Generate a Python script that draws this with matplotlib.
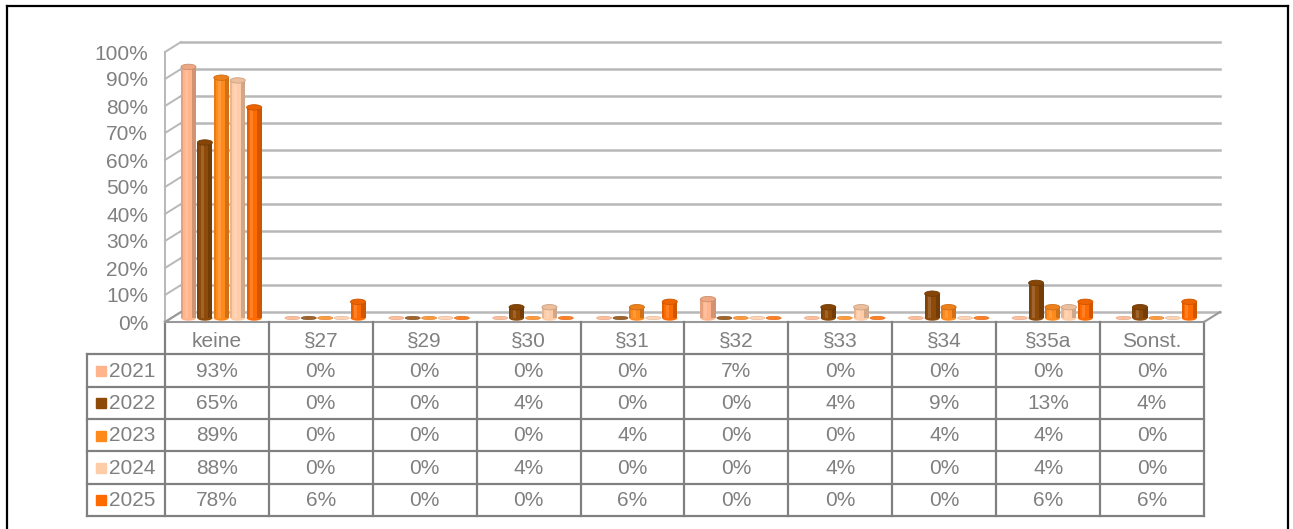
import matplotlib
matplotlib.use('Agg')
import matplotlib.pyplot as plt
import matplotlib.transforms as mtransforms
from matplotlib.patches import Ellipse, Rectangle
from matplotlib.lines import Line2D
from matplotlib.colors import to_rgb
import numpy as np

plt.rcParams['font.family'] = ['Liberation Sans', 'DejaVu Sans']

categories = ['keine', '§27', '§29', '§30', '§31', '§32', '§33', '§34', '§35a', 'Sonst.']
years = ['2021', '2022', '2023', '2024', '2025']
v2021 = [93, 0, 0, 0, 0, 7, 0, 0, 0, 0]
v2022 = [65, 0, 0, 4, 0, 0, 4, 9, 13, 4]
v2023 = [89, 0, 0, 0, 4, 0, 0, 4, 4, 0]
v2024 = [88, 0, 0, 4, 0, 0, 4, 0, 4, 0]
v2025 = [78, 6, 0, 0, 6, 0, 0, 0, 6, 6]
series = [v2021, v2022, v2023, v2024, v2025]
colors = ['#FFB48C', '#8E4A08', '#FF8A1C', '#FFCCA8', '#FF6A00']
y_ticks = [0, 10, 20, 30, 40, 50, 60, 70, 80, 90, 100]

W, H = 1293, 529
fig = plt.figure(figsize=(W / 100, H / 100), dpi=100)
TXT = '#808080'
GRID = '#B8B8B8'


def px_box(x0, y0, x1, y1):
    # pixel box (top-left origin) -> figure fraction
    return [x0 / W, 1 - y1 / H, (x1 - x0) / W, (y1 - y0) / H]


def shade(c, f):
    return tuple(min(1, max(0, v * f)) for v in to_rgb(c))


# chart axes: front face of the 3D box
ax = fig.add_axes(px_box(165, 52, 1204, 322))
ax.set_xlim(0, 10)
ax.set_ylim(0, 100)
for s in ax.spines.values():
    s.set_visible(False)
ax.set_xticks([])
ax.set_yticks(y_ticks)
ax.set_yticklabels([f'{t}%' for t in y_ticks], fontsize=15, color=TXT)
ax.tick_params(axis='y', length=0, pad=12)
ax.patch.set_alpha(0)

back = ax.transData + mtransforms.ScaledTranslation(0.16, 0.10, fig.dpi_scale_trans)
mid = ax.transData + mtransforms.ScaledTranslation(0.0, 0.04, fig.dpi_scale_trans)

# back wall gridlines and left side wall
for t in y_ticks:
    ax.plot([0, 10], [t, t], color=GRID, lw=1.8, transform=back, clip_on=False, zorder=1)
    p0 = ax.transData.transform((0, t))
    p1 = back.transform((0, t))
    fig.add_artist(Line2D([p0[0] / W, p1[0] / W], [p0[1] / H, p1[1] / H],
                          color=GRID, lw=1.4, zorder=1))
ax.plot([0, 0], [0, 100], color=GRID, lw=1.4, clip_on=False, zorder=1)

# floor edges
ax.plot([0, 10], [0, 0], color='#999999', lw=1.5, clip_on=False, zorder=2)
for xe in (0, 10):
    p0 = ax.transData.transform((xe, 0))
    p1 = back.transform((xe, 0))
    fig.add_artist(Line2D([p0[0] / W, p1[0] / W], [p0[1] / H, p1[1] / H],
                          color='#999999', lw=1.5, zorder=2))

# cylinder-like bars
bw = 0.145
pitch = 0.158
ell_h = 2.0
x = np.arange(len(categories))
for j, (vals, c) in enumerate(zip(series, colors)):
    xc = x + 0.226 + j * pitch
    bars = ax.bar(xc, vals, bw, color=c, transform=mid, clip_on=False, zorder=3, linewidth=0)
    for b, v in zip(bars, vals):
        x0 = b.get_x()
        if v > 0:
            ax.add_patch(Rectangle((x0, 0), bw * 0.14, v, color='black', alpha=0.10,
                                   transform=mid, clip_on=False, zorder=4, lw=0))
            ax.add_patch(Rectangle((x0 + bw * 0.72, 0), bw * 0.28, v, color='black', alpha=0.18,
                                   transform=mid, clip_on=False, zorder=4, lw=0))
            ax.add_patch(Rectangle((x0 + bw * 0.25, 0), bw * 0.2, v, color='white', alpha=0.15,
                                   transform=mid, clip_on=False, zorder=4, lw=0))
            ax.add_patch(Ellipse((x0 + bw / 2, 0), bw, ell_h, color=c, transform=mid,
                                 clip_on=False, zorder=3, lw=0))
            ax.add_patch(Ellipse((x0 + bw / 2, v), bw, ell_h, facecolor=shade(c, 0.93),
                                 edgecolor=shade(c, 0.8), lw=0.6, transform=mid,
                                 clip_on=False, zorder=5))
        else:
            ax.add_patch(Ellipse((x0 + bw / 2, v), bw, 1.3, facecolor=c,
                                 edgecolor=shade(c, 0.85), lw=0.4, alpha=0.85,
                                 transform=mid, clip_on=False, zorder=5))

# data table
tb = fig.add_axes(px_box(87, 322, 1204, 516))
tb.set_xlim(-0.75, 10)
tb.set_ylim(6, 0)
tb.axis('off')
LC = '#808080'
for r in range(1, 7):
    tb.plot([-0.75, 10], [r, r], color=LC, lw=1.6, clip_on=False)
tb.plot([-0.75, -0.75], [1, 6], color=LC, lw=1.6, clip_on=False)
for i in range(11):
    tb.plot([i, i], [0, 6], color=LC, lw=1.6, clip_on=False)
for i, cat in enumerate(categories):
    tb.text(i + 0.5, 0.6, cat, ha='center', va='center', fontsize=15, color=TXT)
for r, (yr, vals, c) in enumerate(zip(years, series, colors)):
    yc = r + 1.52
    tb.plot(-0.615, yc, marker='s', ms=7.5, color=c, clip_on=False)
    tb.text(-0.54, yc, yr, ha='left', va='center', fontsize=15, color=TXT)
    for i, v in enumerate(vals):
        tb.text(i + 0.5, yc, f'{v}%', ha='center', va='center', fontsize=15, color=TXT)

# outer frame
for xs, ys in [([7, 7], [6, 529]), ([7, 1288], [6, 6]), ([1288, 1288], [6, 529])]:
    fig.add_artist(Line2D([a / W for a in xs], [1 - b / H for b in ys], color='black', lw=1.6))

fig.savefig('out.png', dpi=100)
